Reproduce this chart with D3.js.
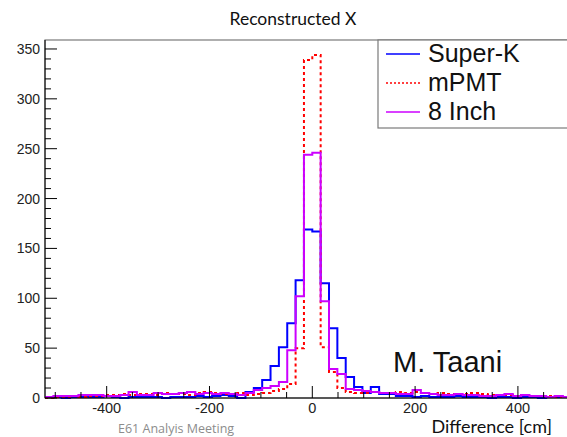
<!DOCTYPE html>
<html>
<head>
<meta charset="utf-8">
<script src="https://cdn.jsdelivr.net/npm/d3@7"></script>
<style>
  body { margin: 0; background: #fff; }
  svg { display: block; }
</style>
</head>
<body>
<svg id="svg" width="567" height="437"></svg>
<script>
// Histogram binning: 64 bins from -520 to 520 cm
const X_MIN = -520;
const X_MAX = 520;
const N_BINS = 64;
const Y_MAX = 359;

// Counts per bin
const superK = [
    1, 1, 0, 1, 1, 1, 1, 2, 1, 0,
    1, 1, 1, 1, 0, 1, 1, 1, 2, 1,
    2, 3, 2, 0, 6,
    10, 18, 32, 51, 75, 118, 169,
    167, 115, 70, 40, 21, 11,
    5, 11, 4, 4, 2, 2, 1, 2, 1, 1,
    1, 2, 1, 1, 1, 0, 1, 1, 0, 1,
    1, 0, 1, 1, 1, 1
];
const mPMT = [
    0, 1, 1, 2, 1, 2, 2, 3, 3, 4,
    3, 4, 4, 3, 5, 4, 4, 3, 5, 6,
    5, 4, 4, 5, 3,
    4, 5, 7, 9, 14, 50, 339,
    344, 51, 26, 10, 6, 5,
    5, 6, 5, 5, 6, 5, 6, 5, 4, 5,
    4, 4, 4, 5, 4, 3, 3, 3, 2, 3,
    2, 2, 2, 1, 1, 1
];
const inch8 = [
    1, 2, 2, 2, 3, 3, 3, 2, 2, 3,
    6, 3, 3, 5, 4, 4, 5, 6, 4, 5,
    4, 5, 4, 3, 5,
    8, 10, 12, 16, 48, 102, 244,
    246, 97, 29, 24, 9, 8,
    7, 6, 5, 5, 4, 4, 8, 5, 4, 3,
    3, 4, 3, 3, 2, 2, 3, 4, 2, 3,
    2, 2, 1, 2, 1, 1
];

const seriesNames = ['Super-K', 'mPMT', '8 Inch'];
const xTickLabels = [-400, -200, 0, 200, 400];
const yTickLabels = [0, 50, 100, 150, 200, 250, 300, 350];

// Layout
const PLOT_LEFT = 45;
const PLOT_TOP = 40;
const PLOT_BOTTOM = 398;
const PLOT_RIGHT = 579.6; // frame runs past the right edge of the picture
const MAJOR_TICK = 12;
const MINOR_TICK = 6;

const svg = d3.select('#svg');

svg.append('rect')
    .attr('width', 567).attr('height', 437)
    .attr('fill', '#fff');

const x = d3.scaleLinear().domain([X_MIN, X_MAX]).range([PLOT_LEFT, PLOT_RIGHT]);
const y = d3.scaleLinear().domain([0, Y_MAX]).range([PLOT_BOTTOM, PLOT_TOP]);

const binWidth = (X_MAX - X_MIN) / N_BINS;
const binLow = d3.range(N_BINS).map(i => X_MIN + i * binWidth);

// Frame (top/right in gray, axes in black)
svg.append('rect')
    .attr('x', PLOT_LEFT).attr('y', PLOT_TOP)
    .attr('width', PLOT_RIGHT - PLOT_LEFT).attr('height', PLOT_BOTTOM - PLOT_TOP)
    .attr('fill', 'none')
    .attr('stroke', '#7a7a7a')
    .attr('stroke-width', 1.2);

// Step outline for one histogram
function stepPath(counts) {
    const p = d3.path();
    p.moveTo(x(binLow[0]), y(0));
    counts.forEach((c, i) => {
        p.lineTo(x(binLow[i]), y(c));
        p.lineTo(x(binLow[i] + binWidth), y(c));
    });
    p.lineTo(x(X_MAX), y(0));
    return p.toString();
}

const styles = [
    { data: superK, color: '#0000ff', dash: null },
    { data: mPMT, color: '#ff0000', dash: '3,3' },
    { data: inch8, color: '#cc00ff', dash: null }
];

const plot = svg.append('g');
plot.append('clipPath').attr('id', 'clip')
    .append('rect')
    .attr('x', PLOT_LEFT).attr('y', PLOT_TOP)
    .attr('width', PLOT_RIGHT - PLOT_LEFT).attr('height', PLOT_BOTTOM - PLOT_TOP + 2);

styles.forEach(s => {
    plot.append('path')
        .attr('d', stepPath(s.data))
        .attr('clip-path', 'url(#clip)')
        .attr('fill', 'none')
        .attr('stroke', s.color)
        .attr('stroke-width', 2)
        .attr('stroke-dasharray', s.dash)
        .attr('stroke-linejoin', 'miter');
});

// Y axis with ROOT style inward ticks
const yAxis = svg.append('g');
yAxis.append('line')
    .attr('x1', PLOT_LEFT).attr('x2', PLOT_LEFT)
    .attr('y1', PLOT_TOP).attr('y2', PLOT_BOTTOM)
    .attr('stroke', '#000');
d3.range(0, Y_MAX + 1, 10).forEach(v => {
    const major = v % 50 === 0;
    yAxis.append('line')
        .attr('x1', PLOT_LEFT).attr('x2', PLOT_LEFT + (major ? MAJOR_TICK : MINOR_TICK))
        .attr('y1', y(v)).attr('y2', y(v))
        .attr('stroke', '#000');
});
yAxis.selectAll('text.ylab')
    .data(yTickLabels)
    .join('text')
    .attr('class', 'ylab')
    .attr('x', PLOT_LEFT - 5)
    .attr('y', d => y(d))
    .attr('dy', '0.36em')
    .attr('text-anchor', 'end')
    .attr('font-family', 'Liberation Sans, Arial, sans-serif')
    .attr('font-size', 14)
    .attr('fill', '#222')
    .text(d => d);

// X axis
const xAxis = svg.append('g');
xAxis.append('line')
    .attr('x1', PLOT_LEFT).attr('x2', 567)
    .attr('y1', PLOT_BOTTOM).attr('y2', PLOT_BOTTOM)
    .attr('stroke', '#000');
d3.range(-500, 501, 50).forEach(v => {
    const major = v % 200 === 0;
    xAxis.append('line')
        .attr('x1', x(v)).attr('x2', x(v))
        .attr('y1', PLOT_BOTTOM).attr('y2', PLOT_BOTTOM - (major ? MAJOR_TICK : MINOR_TICK))
        .attr('stroke', '#000');
});
xAxis.selectAll('text.xlab')
    .data(xTickLabels)
    .join('text')
    .attr('class', 'xlab')
    .attr('x', d => x(d))
    .attr('y', PLOT_BOTTOM + 15)
    .attr('text-anchor', 'middle')
    .attr('font-family', 'Liberation Sans, Arial, sans-serif')
    .attr('font-size', 14.5)
    .attr('fill', '#222')
    .text(d => d);

// Legend box
const legend = svg.append('g');
legend.append('rect')
    .attr('x', 378).attr('y', PLOT_TOP)
    .attr('width', 220).attr('height', 88)
    .attr('fill', '#fff')
    .attr('stroke', '#7a7a7a')
    .attr('stroke-width', 1.2);
seriesNames.forEach((name, i) => {
    const ly = 54 + i * 29;
    legend.append('line')
        .attr('x1', 386).attr('x2', 420)
        .attr('y1', ly).attr('y2', ly)
        .attr('stroke', styles[i].color)
        .attr('stroke-width', 1.5)
        .attr('stroke-dasharray', styles[i].dash ? '2,2' : null);
    legend.append('text')
        .attr('x', 428).attr('y', ly + 8)
        .attr('font-family', 'Liberation Sans, Arial, sans-serif')
        .attr('font-size', 25)
        .attr('fill', '#111')
        .text(name);
});

// Titles and annotations
svg.append('text')
    .attr('x', 293).attr('y', 25)
    .attr('text-anchor', 'middle')
    .attr('font-family', 'Lato, sans-serif')
    .attr('font-size', 17.5)
    .attr('fill', '#111')
    .text('Reconstructed X');

svg.append('text')
    .attr('x', 552).attr('y', 433)
    .attr('text-anchor', 'end')
    .attr('font-family', 'Lato, sans-serif')
    .attr('font-size', 18)
    .attr('fill', '#111')
    .text('Difference [cm]');

svg.append('text')
    .attr('x', 393).attr('y', 372)
    .attr('font-family', 'Liberation Sans, Arial, sans-serif')
    .attr('font-size', 29)
    .attr('fill', '#111')
    .text('M. Taani');

svg.append('text')
    .attr('x', 118).attr('y', 433)
    .attr('font-family', 'Open Sans, sans-serif')
    .attr('font-size', 12.5)
    .attr('fill', '#8c8c8c')
    .text('E61 Analyis Meeting');
</script>
</body>
</html>
